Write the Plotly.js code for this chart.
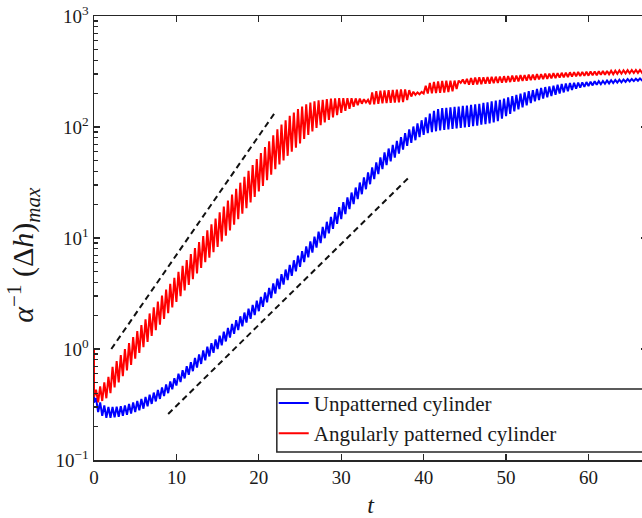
<!DOCTYPE html>
<html><head><meta charset="utf-8">
<script src="https://cdn.plot.ly/plotly-3.0.1.min.js"></script>
<style>
html,body{margin:0;padding:0;overflow:hidden;background:#fff}
</style>
</head><body>
<div id="chart" style="width:647px;height:518px"></div>
<script>
// ---- data ----
// each entry: trough (low) value then crest (high) value of one oscillation; successive troughs are OSC_STEP apart in t
const OSC_STEP = 0.5;
const seriesNames = ['Unpatterned cylinder', 'Angularly patterned cylinder'];
const yTitleText = '<i>\u03b1</i><sup>\u22121</sup> (\u0394<i>h</i>)<sub><i>max</i></sub>';
const xTitleText = '<i>t</i>';

const blueStart = 0.40;
const blueLow = [0.33,0.27,0.25,0.24,0.24,0.242,0.245,0.25,0.255,0.262,0.27,0.28,0.29,0.305,0.32,0.337,0.355,0.377,0.40,0.433,
0.468,0.504,0.543,0.585,0.631,0.68,0.733,0.79,0.857,0.925,1.0,1.08,1.17,1.27,1.37,1.48,1.60,1.73,1.87,2.02,
2.19,2.40,2.63,2.88,3.16,3.47,3.8,4.17,4.57,5.0,5.5,6.07,6.7,7.4,8.2,9.0,9.95,11.0,12.1,13.4,
14.8,16.4,18.2,20.2,22.4,24.8,27.5,30.5,33.9,37.6,41.7,45.3,49,53,57.5,62.5,67.6,72,76,81,
85,88,90,91.5,93,94,95,96,97,98,99,100,102,103,105,106,108,110,113,119,
125,131,138,144,150,157,164,170,175,180,185,190,195,200,205,210,216,221,226,230,
234,237,240,243,245,247,249,251,253,255,257,259,261,263,265];
const blueHigh = [0.36,0.33,0.31,0.30,0.30,0.302,0.305,0.31,0.32,0.33,0.34,0.355,0.37,0.387,0.405,0.427,0.45,0.48,0.51,0.545,
0.60,0.645,0.70,0.76,0.83,0.895,0.97,1.05,1.13,1.22,1.32,1.43,1.55,1.68,1.82,1.97,2.13,2.31,2.5,2.72,
2.95,3.23,3.55,3.9,4.3,4.73,5.2,5.72,6.3,6.93,7.6,8.4,9.3,10.3,11.4,12.6,14.0,15.5,17.1,19.0,
21.0,23.2,25.7,28.5,31.6,35.1,39,43.3,48,53.3,59,64,69,75,81,88,95,101,108,115,
122,132,140,145,148,149,150,152,153,155,156,158,160,162,165,167,170,173,176,180,
185,190,195,200,205,210,215,220,225,229,232,236,240,244,247,249,250,251,252,254,
256,258,259,260,262,264,265,267,268,270,271,272,274,275,276];

const redStart = 1.0;
const redLow = [0.37,0.33,0.34,0.36,0.40,0.45,0.50,0.57,0.64,0.72,0.82,0.92,1.04,1.16,1.31,1.48,1.66,1.87,2.10,2.37,
2.66,2.99,3.37,3.78,4.26,4.79,5.38,6.05,6.65,7.45,8.3,9.3,10.5,11.7,13.2,14.8,16.6,18.6,20.9,23.4,
26.3,29.5,33.1,37.2,41.7,46,50,55,60,65,71,78,85,91,98,104,110,116,122,128,
134,140,146,152,157,162,166,160,160,162,163,164,165,166,167,168,175,188,195,197,
200,200,201,202,203,204,206,210,220,250,245,240,241,242,243,245,246,248,249,251,
252,254,256,258,260,262,264,266,268,270,272,274,276,278,280,282,284,286,287,289,
290,292,293,295,296,298,299,301,302,304,305,306,307,308,309];
const redHigh = [0.43,0.46,0.50,0.56,0.69,0.78,0.88,1.0,1.13,1.28,1.45,1.64,1.85,2.09,2.37,2.68,3.03,3.43,3.87,4.38,
4.95,5.61,6.34,7.17,8.11,9.18,10.4,11.7,13.3,15.0,17.0,19.2,21.7,24.6,27.8,31.5,35.6,40.3,45.5,51.5,
58.2,65.9,74.5,84.3,95.3,105,115,126,135,145,153,160,166,170,174,176,178,180,181,182,
182,182,182,181,180,178,176,205,210,212,214,215,216,217,218,218,215,208,205,207,
235,250,255,258,260,261,262,262,262,268,272,276,279,280,281,282,283,284,285,287,
288,290,291,293,294,296,297,299,300,302,303,305,306,308,309,311,312,313,314,315,
316,317,318,319,320,321,322,323,324,325,326,326,327,328,328];

// dashed guide lines (end points)
const guideUpperT = [2.1, 21.9], guideUpperV = [1.0, 133];
const guideLowerT = [9.0, 38.1], guideLowerV = [0.26, 34.5];

const xTicks = [0, 10, 20, 30, 40, 50, 60];
const yTicks = [0.1, 1, 10, 100, 1000];
const yTickText = ['10<sup>\u22121</sup>', '10<sup>0</sup>', '10<sup>1</sup>', '10<sup>2</sup>', '10<sup>3</sup>'];

// ---- build traces ----
function zigzag(start, low, high) {
  const n = Math.min(low.length, high.length);
  const x = [0], y = [start];
  for (let i = 0; i < n; i++) {
    x.push(i * OSC_STEP); y.push(low[i]);
    x.push(i * OSC_STEP + OSC_STEP / 2); y.push(high[i]);
  }
  return {x, y};
}
const b = zigzag(blueStart, blueLow, blueHigh);
const r = zigzag(redStart, redLow, redHigh);

const minorVals = [];
[0.1, 1, 10, 100].forEach(d => { for (let k = 2; k <= 9; k++) minorVals.push(k * d); });

const axisCol = '#262626';
const serif = '"Liberation Serif", "DejaVu Serif", serif';

const traces = [
  {x: b.x, y: b.y, mode: 'lines', name: seriesNames[0], line: {color: '#0000ff', width: 2}},
  {x: r.x, y: r.y, mode: 'lines', name: seriesNames[1], line: {color: '#ff0000', width: 2}},
  {x: guideUpperT, y: guideUpperV, mode: 'lines', showlegend: false, line: {color: '#111', width: 2, dash: '6px,4px'}},
  {x: guideLowerT, y: guideLowerV, mode: 'lines', showlegend: false, line: {color: '#111', width: 2, dash: '6px,4px'}}
];

const layout = {
  width: 647, height: 518,
  margin: {l: 94, r: 0, t: 16, b: 58},
  paper_bgcolor: '#fff', plot_bgcolor: '#fff',
  font: {family: serif, size: 18, color: '#1a1a1a'},
  showlegend: true,
  xaxis: {
    range: [0, 67.1], tickmode: 'array', tickvals: xTicks,
    ticks: 'inside', ticklen: 6, tickwidth: 1.3, tickcolor: axisCol,
    showline: true, linecolor: axisCol, linewidth: 1.5, mirror: 'ticks',
    showgrid: false, zeroline: false,
    tickfont: {family: serif, size: 19},
    title: {text: xTitleText, font: {family: serif, size: 24}, standoff: 11}
  },
  yaxis: {
    type: 'log', range: [-1, 3], tickmode: 'array', tickvals: yTicks, ticktext: yTickText,
    ticks: 'inside', ticklen: 6, tickwidth: 1.3, tickcolor: axisCol,
    minor: {tickmode: 'array', tickvals: minorVals, ticks: 'inside', ticklen: 3.5, tickwidth: 1.2, tickcolor: axisCol, showgrid: false},
    showline: true, linecolor: axisCol, linewidth: 1.5, mirror: 'ticks',
    showgrid: false, zeroline: false,
    tickfont: {family: serif, size: 19},
    title: {text: ''}
  },
  annotations: [{
    text: yTitleText, xref: 'paper', yref: 'paper', x: -0.127, y: 0.462,
    xanchor: 'center', yanchor: 'middle', textangle: -90, showarrow: false,
    font: {family: serif, size: 30, color: '#1a1a1a'}
  }],
  legend: {
    x: 0.325, y: 0.174, xanchor: 'left', yanchor: 'top',
    bgcolor: 'rgba(0,0,0,0)', borderwidth: 0,
    font: {family: serif, size: 21, color: '#1a1a1a'},
    tracegroupgap: 0
  },
  shapes: [{
    type: 'rect', xref: 'paper', yref: 'paper', x0: 0.3306, x1: 1.05, y0: 0.018, y1: 0.16,
    line: {color: axisCol, width: 1.5}, fillcolor: '#fff', layer: 'above'
  }]
};

Plotly.newPlot('chart', traces, layout, {displayModeBar: false, staticPlot: true});
</script>
</body></html>
